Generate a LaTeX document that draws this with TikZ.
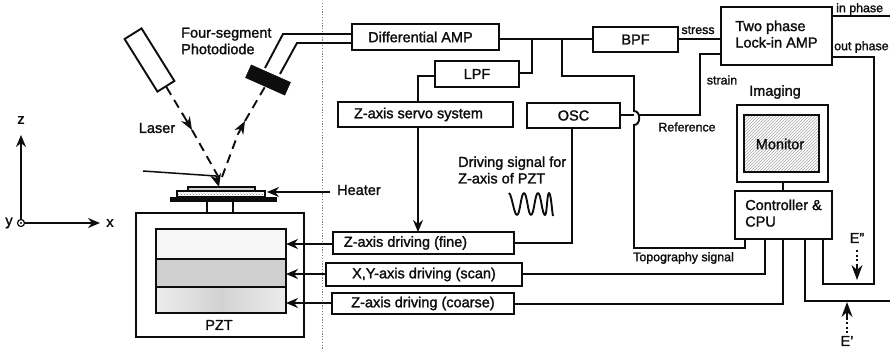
\documentclass[tikz,border=0pt]{standalone}
\usepackage{fontspec}
\setmainfont[FakeBold=1.6]{Liberation Sans}
\usetikzlibrary{arrows.meta,patterns}
\definecolor{ink}{gray}{0.05}
\tikzset{
  pb/.style={draw=ink,line width=1.9pt,inner sep=0pt,align=center,font=\fontsize{14.5}{16.5}\selectfont,text=ink},
  lbl/.style={inner sep=0pt,align=left,text=ink,font=\fontsize{14.5}{16.5}\selectfont},
  sm/.style={inner sep=0pt,align=left,text=ink,font=\fontsize{12.4}{13}\selectfont},
  wire/.style={draw=ink,line width=1.9pt,line join=miter},
  thin wire/.style={draw=ink,line width=1.5pt},
  tip/.style={-{Stealth[length=12pt,width=10pt]}},
  dashbeam/.style={draw=ink,line width=1.9pt,dash pattern=on 9pt off 6pt},
  dotbeam/.style={draw=ink,line width=2pt,dash pattern=on 2pt off 2.5pt},
}
\newcommand{\pbox}[6]{%
  \pgfmathsetmacro{\bw}{#4-#2}\pgfmathsetmacro{\bh}{#5-#3}%
  \pgfmathsetmacro{\bx}{(#2+#4)/2}\pgfmathsetmacro{\by}{(#3+#5)/2}%
  \node[pb,minimum width=\bw pt,minimum height=\bh pt] (#1) at (\bx,\by) {#6};}
\newcommand{\textleft}[2]{#2\hspace*{#1}\mbox{}}
\begin{document}
\begin{tikzpicture}[x=1pt,y=-1pt]
\useasboundingbox (0,0) rectangle (890,349);
% divider
\coordinate (dtop) at (322,3); \coordinate (dbot) at (322,349);
\draw[gray,line width=1pt,dash pattern=on 1.2pt off 1.6pt] (dtop) -- (dbot);
% axes
\node[circle,draw=ink,line width=1.2pt,minimum size=7pt,inner sep=0pt] (o) at (21,223) {};
\fill[ink] (21,223) circle (1.2pt);
\coordinate (zend) at (21,135); \coordinate (xend) at (100,223);
\draw[thin wire,tip] (o) -- (zend);
\draw[thin wire,tip] (o) -- (xend);
\node[lbl] (zl) at (21,120) {z};
\node[lbl] (xl) at (110,223) {x};
\node[lbl] (yl) at (9,223) {y};
% laser & photodiode
\node[draw=ink,line width=1.9pt,minimum width=62pt,minimum height=20pt,rotate=-58,inner sep=0pt] (laser) at (149.5,60) {};
\node[draw=ink,fill=ink,minimum width=43pt,minimum height=14pt,rotate=-24,inner sep=0pt] (pd) at (268,80) {};
\node[lbl] (four) at (181,41) [anchor=west] {Four-segment\\Photodiode};
\node[lbl] (las) at (157,128) {Laser};
\coordinate (bm0) at (185,118); \coordinate (bm1) at (192,130); \coordinate (bm2) at (219,178);
\coordinate (rf0) at (238,134); \coordinate (rf1) at (222,177); \coordinate (rf2) at (245,121);
\draw[dashbeam] (laser.east) -- (bm0);
\draw[line width=1.9pt,ink,-{Stealth[length=13pt,width=10pt]}] (bm0) -- (bm1);
\draw[dashbeam] (bm1) -- (bm2);
\draw[dashbeam] (rf1) -- (rf0);
\draw[line width=1.9pt,ink,-{Stealth[length=13pt,width=10pt]}] (rf0) -- (rf2);
\draw[dashbeam] (rf2) -- (pd.south);
% sample stack
\node[draw=ink,fill=gray!35,line width=1.2pt,minimum width=67pt,minimum height=4pt,inner sep=0pt] (samp) at (221.5,189) {};
\node[draw=ink,pattern=crosshatch dots,pattern color=gray,line width=1.2pt,minimum width=88pt,minimum height=6pt,inner sep=0pt] (heat) at (221,194) {};
\node[fill=ink,minimum width=107pt,minimum height=5pt,inner sep=0pt] (plate) at (223.5,199) {};
\coordinate (cant) at (143,171); \coordinate (cante) at (216,176); \coordinate (tip1) at (219,187);
\draw[thin wire] (cant) -- (cante);
\draw[line width=1.5pt,ink,-{Stealth[length=13pt,width=11pt]}] (cante) -- (tip1);
\coordinate (hs) at (330,192); \coordinate (ht) at (267,192);
\draw[thin wire,tip] (hs) -- (ht);
\node[lbl,anchor=west] (hl) at (337,190) {Heater};
% PZT
\node[draw=ink,line width=1.7pt,minimum width=26pt,minimum height=12pt,inner sep=0pt] (post) at (220,207) {};
\node[draw=ink,line width=1.9pt,minimum width=168pt,minimum height=124pt,inner sep=0pt] (pztout) at (220,275) {};
\node[draw=ink,fill=gray!7,line width=1.9pt,minimum width=130pt,minimum height=30pt,inner sep=0pt] (l1) at (221,244) {};
\node[draw=ink,fill=gray!38,line width=1.9pt,minimum width=130pt,minimum height=28pt,inner sep=0pt] (l2) at (221,273) {};
\node[draw=ink,left color=gray!15,right color=gray!15,middle color=gray!35,line width=1.9pt,minimum width=130pt,minimum height=26pt,inner sep=0pt] (l3) at (221,300) {};
\node[lbl] (pztl) at (219,325) {PZT};
% right boxes
\pbox{dam}{352}{24}{499}{50}{\textleft{10pt}{Differential AMP}}
\pbox{lpf}{435}{61}{519}{87}{LPF}
\pbox{serv}{338}{102}{513}{127}{\textleft{14pt}{Z-axis servo system}}
\pbox{osc}{527}{103}{620}{128}{OSC}
\pbox{zf}{333}{232}{514}{254}{\textleft{36pt}{Z-axis driving (fine)}}
\pbox{xy}{326}{263}{522}{286}{X,Y-axis driving (scan)}
\pbox{zc}{332}{293}{514}{314}{Z-axis driving (coarse)}
\pbox{bpf}{593}{27}{678}{52}{BPF}
\pbox{lock}{721}{7}{832}{65}{\begin{tabular}{@{}l@{}}Two phase\\Lock-in AMP\end{tabular}}
\pbox{mon}{737}{105}{828}{182}{}
\node[draw=ink,line width=1.9pt,pattern=north east lines,pattern color=gray!70,minimum width=75pt,minimum height=57pt,inner sep=0pt] (scr) at (781.5,143.5) {};
\node[lbl] (monl) at (780,144) {Monitor};
\pbox{ctl}{735}{191}{832}{239}{\begin{tabular}{@{}l@{}}Controller \&\\CPU\end{tabular}}
% wires
\coordinate (w1s) at (265,68); \coordinate (w1b) at (283,34);
\coordinate (w2s) at (280,74); \coordinate (w2b) at (297,43);
\draw[wire] (w1s) -- (w1b) -- (w1b -| dam.west);
\draw[wire] (w2s) -- (w2b) -- (w2b -| dam.west);
\coordinate (a1) at (499,39); \coordinate (lj) at (532,39); \coordinate (tj) at (562,39);
\coordinate (bpfin) at (593,39);
\draw[wire] (a1) -- (bpfin);
\coordinate (lj2) at (532,73);
\draw[wire] (lj) -- (lj2) -- (lj2 -| lpf.east);
\coordinate (lpfl) at (435,76); \coordinate (lk) at (418,76); \coordinate (sv) at (418,102);
\draw[wire] (lpfl) -- (lk) -- (sv);
\coordinate (sv2) at (418,127); \coordinate (zft) at (418,232);
\draw[wire,tip] (sv2) -- (zft);
% topography with jump
\coordinate (t1) at (562,76); \coordinate (t2) at (634,76); \coordinate (t3) at (634,111);
\coordinate (t4) at (634,125); \coordinate (t5) at (634,248); \coordinate (t6) at (745,248);
\coordinate (t7) at (745,239);
\draw[wire] (tj) -- (t1) -- (t2) -- (t3) .. controls (641,111) and (641,125) .. (t4) -- (t5) -- (t6) -- (t7);
% reference
\coordinate (r1) at (620,115); \coordinate (r2) at (634,115); \coordinate (r3) at (639,115);
\coordinate (r4) at (700,115); \coordinate (r5) at (700,54); \coordinate (r6) at (721,54);
\draw[wire] (r1) -- (r2);
\draw[wire] (r3) -- (r4) -- (r5) -- (r6);
\coordinate (st1) at (678,39); \coordinate (st2) at (721,39);
\draw[wire] (st1) -- (st2);
\coordinate (oscb) at (572,128); \coordinate (oscc) at (572,243); \coordinate (zfr) at (514,243);
\draw[wire] (oscb) -- (oscc) -- (zfr);
\coordinate (x1) at (765,239); \coordinate (x2) at (765,274); \coordinate (x3) at (522,274);
\draw[wire] (x1) -- (x2) -- (x3);
\coordinate (c1) at (783,239); \coordinate (c2) at (783,304); \coordinate (c3) at (514,304);
\draw[wire] (c1) -- (c2) -- (c3);
\coordinate (m1) at (783,182); \coordinate (m2) at (783,191);
\draw[wire] (m1) -- (m2);
\coordinate (ip1) at (832,16); \coordinate (ip2) at (890,16);
\draw[wire] (ip1) -- (ip2);
\coordinate (op1) at (832,57); \coordinate (op2) at (874,57); \coordinate (op3) at (874,284);
\coordinate (op4) at (823,284); \coordinate (op5) at (823,239);
\draw[wire] (op1) -- (op2) -- (op3) -- (op4) -- (op5);
\coordinate (e1) at (805,239); \coordinate (e2) at (805,301); \coordinate (e3) at (890,301);
\draw[wire] (e1) -- (e2) -- (e3);
% PZT arrows
\coordinate (ar1) at (333,244); \coordinate (ar2) at (326,274); \coordinate (ar3) at (332,303);
\coordinate (ae1) at (286,244); \coordinate (ae2) at (286,274); \coordinate (ae3) at (286,303);
\draw[wire,tip] (ar1) -- (ae1);
\draw[wire,tip] (ar2) -- (ae2);
\draw[wire,tip] (ar3) -- (ae3);
% E arrows
\coordinate (eu) at (857,250); \coordinate (eum) at (857,265); \coordinate (eut) at (857,280);
\draw[dotbeam] (eu) -- (eum);
\draw[line width=1.5pt,ink,-{Stealth[length=15pt,width=11pt]}] (eum) -- (eut);
\coordinate (ed) at (847,333); \coordinate (edm) at (847,318); \coordinate (edt) at (847,302);
\draw[dotbeam] (ed) -- (edm);
\draw[line width=1.5pt,ink,-{Stealth[length=15pt,width=11pt]}] (edm) -- (edt);
% labels
\node[sm,anchor=west] (inp) at (836,9) {in phase};
\node[sm,anchor=west] (outp) at (834,47) {out phase};
\node[sm] (stress) at (698,30) {stress};
\node[sm] (strain) at (722,80) {strain};
\node[sm] (refl) at (687,127) {Reference};
\node[lbl] (img) at (775,92) {Imaging};
\node[sm,anchor=west] (topo) at (633,258) {Topography signal};
\node[lbl,anchor=west] (drv) at (458,170) {Driving signal for\\Z-axis of PZT};
\node[lbl] (e2l) at (857,238) {E''};
\node[lbl] (e1l) at (847,341) {E'};
% waveform
\coordinate (wv0) at (509,193);
\draw[ink,line width=1.9pt,line join=round] (wv0) .. controls (512,195) and (514,215) .. (517,215) .. controls (520,215) and (521,193) .. (524,193) .. controls (527,193) and (528,215) .. (531,215) .. controls (534,215) and (535,193) .. (538,193) .. controls (541,193) and (542,215) .. (545,215) .. controls (547,215) and (547,193) .. (549,193) .. controls (551,193) and (552,212) .. (553,216);
\end{tikzpicture}
\end{document}
